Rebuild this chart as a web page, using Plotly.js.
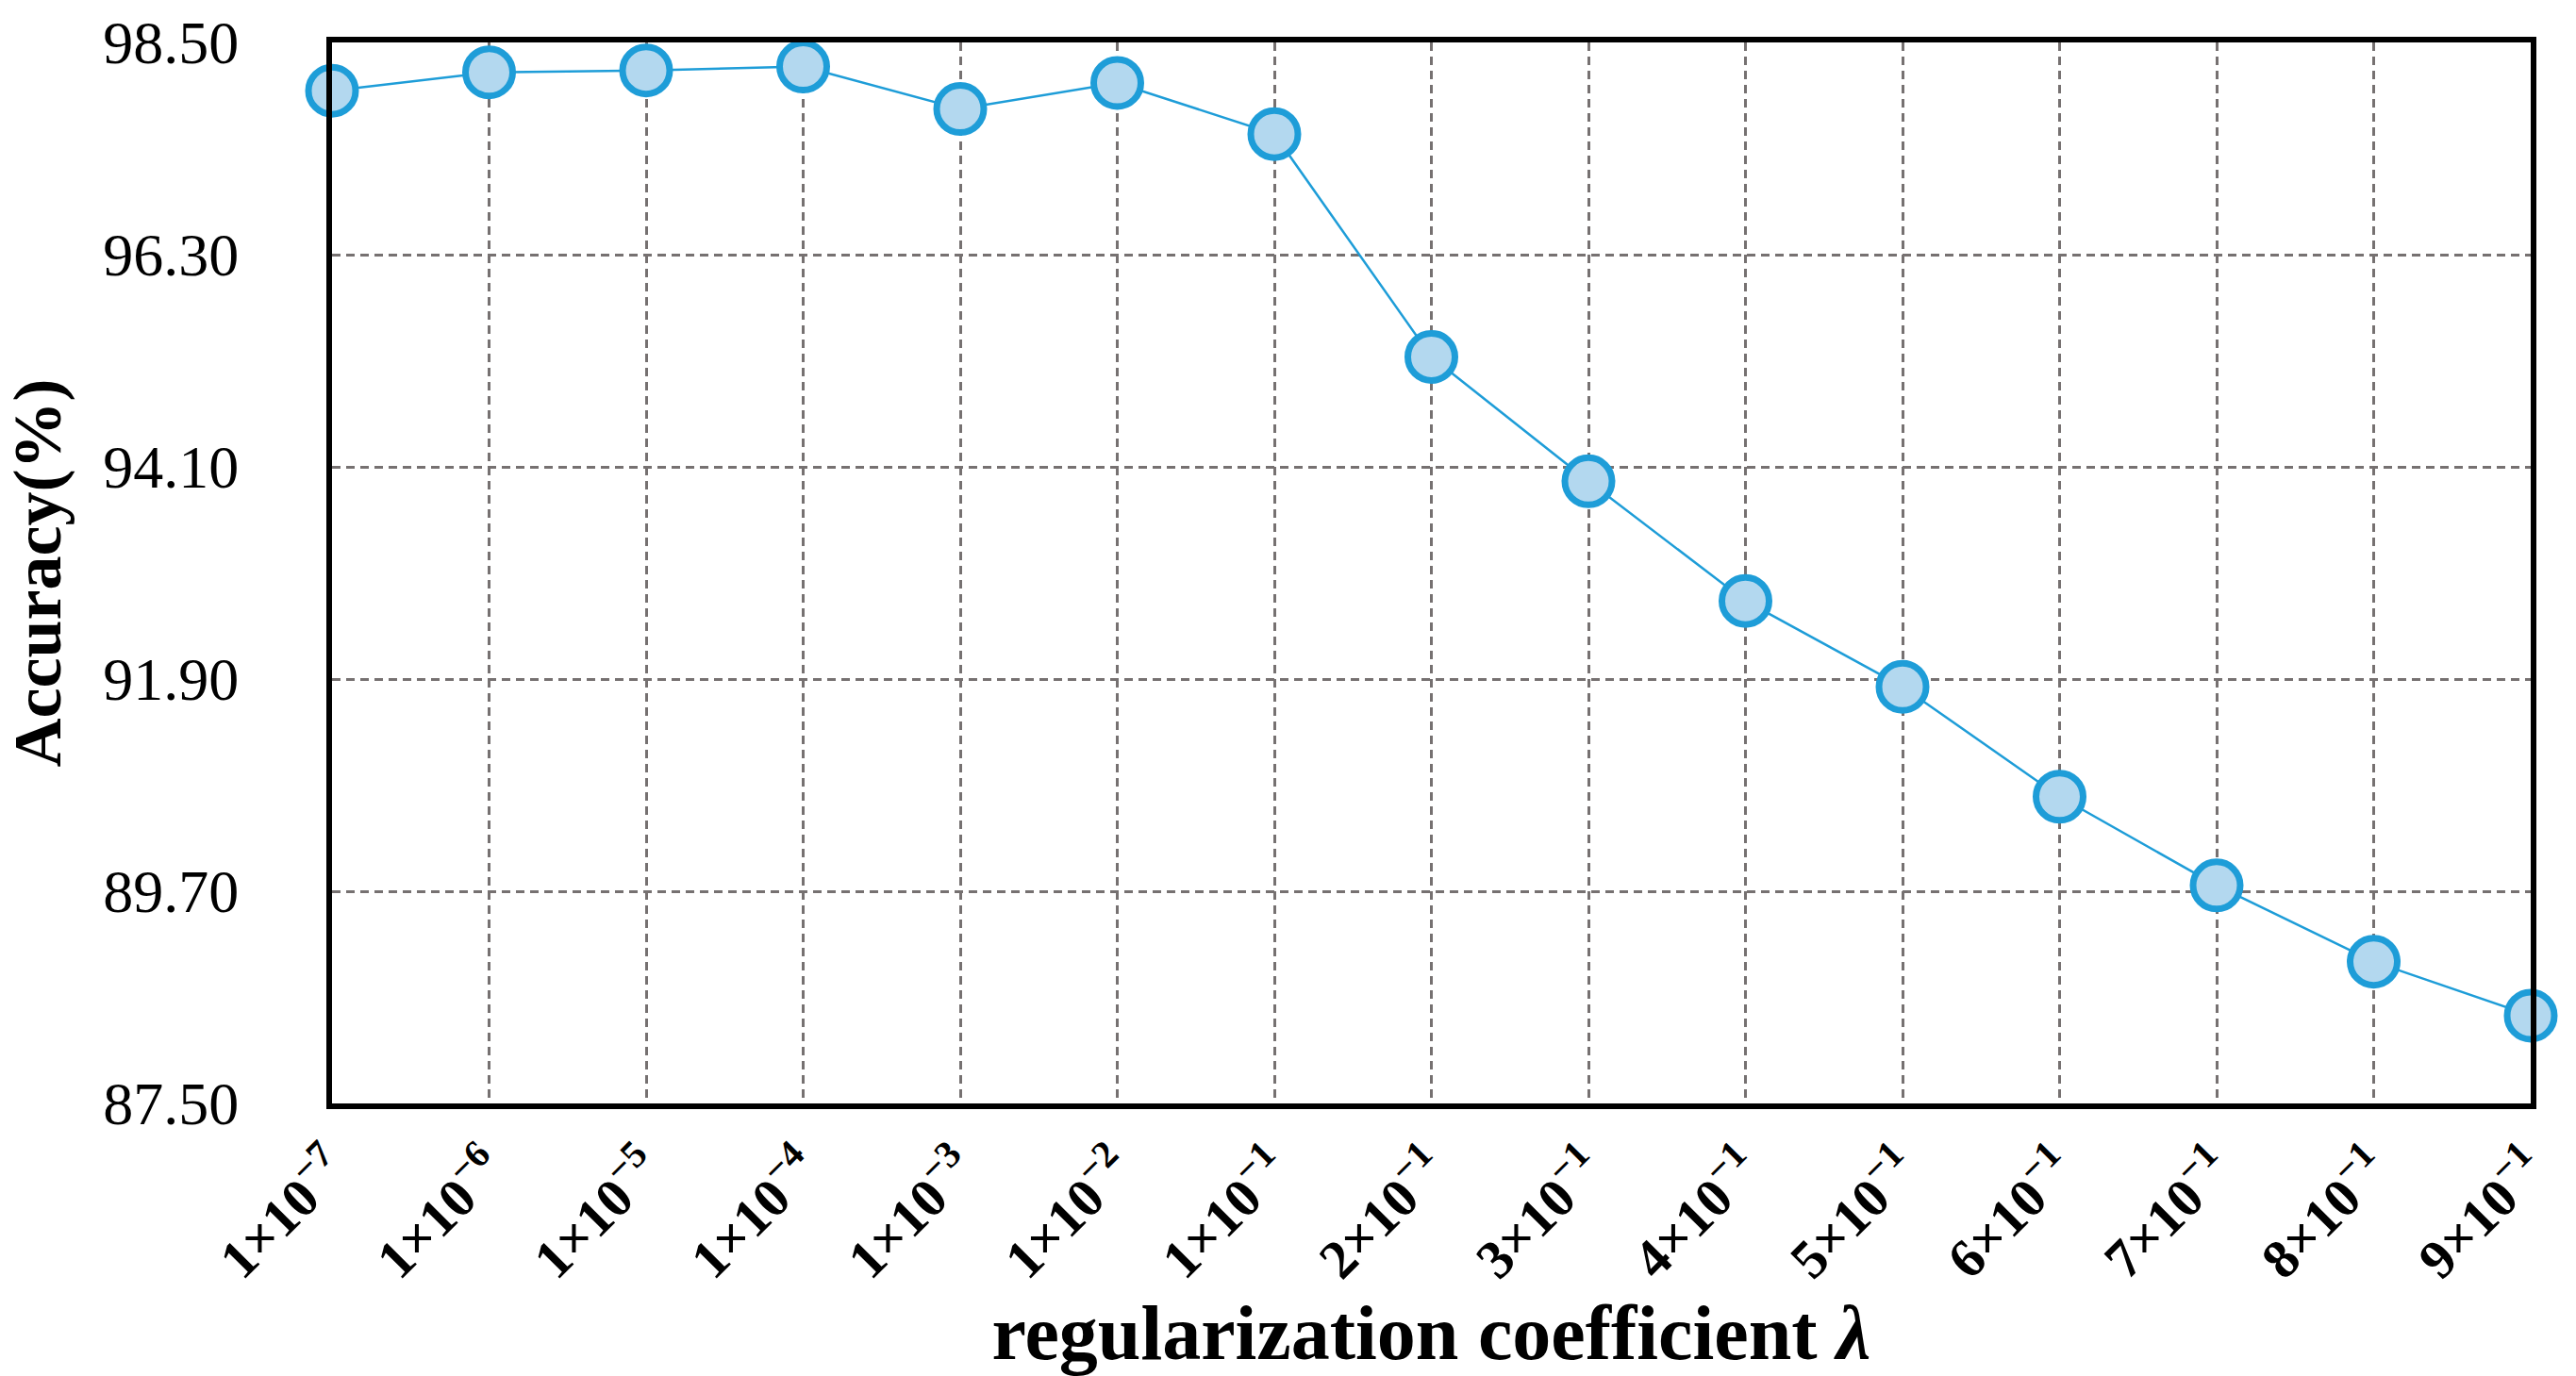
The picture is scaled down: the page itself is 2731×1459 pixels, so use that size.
<!DOCTYPE html>
<html>
<head>
<meta charset="utf-8">
<script src="https://cdn.plot.ly/plotly-3.0.1.min.js"></script>
<style>
  html, body { margin: 0; padding: 0; background: #fff; }
  #chart { width: 2731px; height: 1459px; }
</style>
</head>
<body>
<div id="chart"></div>
<script>
// lambda values shown on the x axis
const lambdas = [
  '1×10<sup>−7</sup>', '1×10<sup>−6</sup>', '1×10<sup>−5</sup>', '1×10<sup>−4</sup>',
  '1×10<sup>−3</sup>', '1×10<sup>−2</sup>', '1×10<sup>−1</sup>', '2×10<sup>−1</sup>',
  '3×10<sup>−1</sup>', '4×10<sup>−1</sup>', '5×10<sup>−1</sup>', '6×10<sup>−1</sup>',
  '7×10<sup>−1</sup>', '8×10<sup>−1</sup>', '9×10<sup>−1</sup>'
];

// accuracy (%)
const accuracy = [
  98.00, 98.19, 98.21, 98.25, 97.81, 98.08, 97.55, 95.24,
  93.95, 92.71, 91.82, 90.68, 89.76, 88.97, 88.41
];

const yTicks = [87.5, 89.7, 91.9, 94.1, 96.3, 98.5];

const SERIF = '"Liberation Serif", "Times New Roman", serif';
const BLUE = '#1e9dd8';
const GRID = '#767171';

const trace = {
  type: 'scatter',
  mode: 'lines+markers',
  x: lambdas,
  y: accuracy,
  line: { color: BLUE, width: 2.5 },
  marker: { symbol: 'circle', size: 50, color: '#b3d8ef', line: { color: BLUE, width: 7 } },
  cliponaxis: false,
  hoverinfo: 'skip',
};

const layout = {
  width: 2731,
  height: 1459,
  margin: { l: 352, r: 48, t: 45, b: 289 },
  paper_bgcolor: '#ffffff',
  plot_bgcolor: '#ffffff',
  showlegend: false,
  font: { family: SERIF, color: '#000' },
  xaxis: {
    type: 'category',
    range: [0, lambdas.length - 1],
    tickangle: -45,
    tickfont: { family: SERIF, size: 58, color: '#000', weight: 'bold' },
    ticks: '',
    ticklabelstandoff: 6,
    showgrid: true,
    gridcolor: GRID,
    gridwidth: 3,
    griddash: '9px,6px',
    showline: true,
    mirror: true,
    linecolor: '#000',
    linewidth: 6,
    zeroline: false,
    title: {
      text: 'regularization coefficient <i>λ</i>',
      font: { family: SERIF, size: 82, color: '#000', weight: 'bold' },
      standoff: 6,
    },
    automargin: false,
  },
  yaxis: {
    range: [87.5, 98.5],
    tickvals: yTicks,
    tickformat: '.2f',
    tickfont: { family: SERIF, size: 64, color: '#000' },
    ticks: '',
    ticklabelstandoff: 80,
    showgrid: true,
    gridcolor: GRID,
    gridwidth: 3,
    griddash: '9px,6px',
    showline: true,
    mirror: true,
    linecolor: '#000',
    linewidth: 6,
    zeroline: false,
    title: {
      text: 'Accuracy(%)',
      font: { family: SERIF, size: 72, color: '#000', weight: 'bold' },
      standoff: 40,
    },
    automargin: false,
  },
};

Plotly.newPlot('chart', [trace], layout, { displayModeBar: false, staticPlot: true });
</script>
</body>
</html>
